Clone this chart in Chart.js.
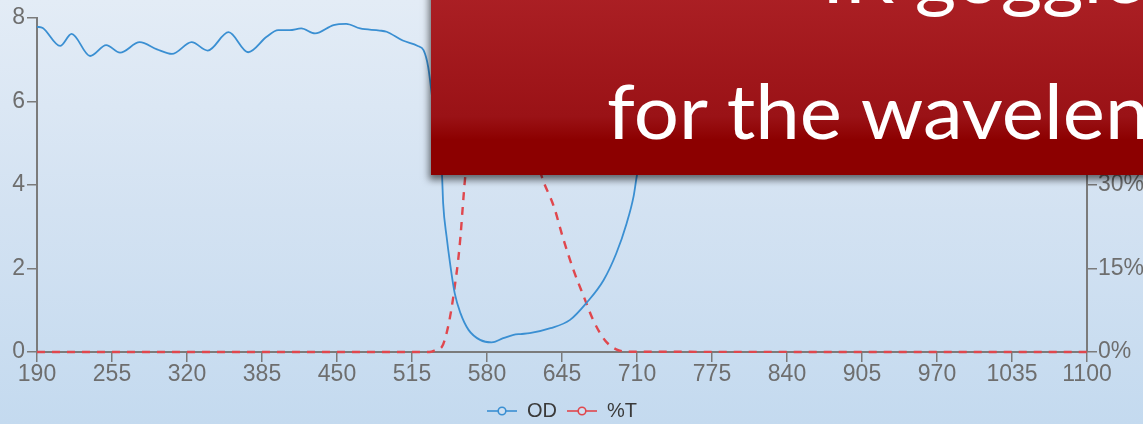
<!DOCTYPE html>
<html>
<head>
<meta charset="utf-8">
<title>OD / %T</title>
<script src="https://cdn.jsdelivr.net/npm/chart.js@4.4.1/dist/chart.umd.min.js"></script>
<style>
    html, body {
        margin: 0;
        padding: 0;
        width: 1143px;
        height: 424px;
        overflow: hidden;
    }
    body {
        position: relative;
        background: linear-gradient(to bottom, #e3ecf6 0%, #d3e2f2 50%, #c4daef 100%);
    }
    #wrap {
        position: absolute;
        left: 0;
        top: 0;
        width: 1143px;
        height: 424px;
    }
    /* banda roja del slide que tapa la parte superior derecha */
    #banner {
        position: absolute;
        left: 431px;
        top: -20px;
        width: 900px;
        height: 195px;
        background: linear-gradient(to bottom, #ad2126 0%, #9a1216 70%, #8c0000 82%, #8c0000 100%);
        box-shadow: -2px 5px 7px rgba(0, 0, 0, 0.55);
        overflow: hidden;
        font-family: Lato, sans-serif;
        color: #ffffff;
    }
    #banner span {
        position: absolute;
        white-space: nowrap;
        font-size: 76px;
        line-height: 76px;
        transform: scaleX(1.05);
        transform-origin: left center;
    }
</style>
</head>
<body>
<div id="wrap"><canvas id="odChart" width="1143" height="424"></canvas></div>
<div id="banner">
    <span style="left: 391px; top: -44px;">IR goggles</span>
    <span style="left: 176px; top: 92px;">for the wavelength</span>
</div>
<script>
// Curva de densidad óptica (eje izquierdo)
const odWavelength = [190, 195, 210, 220, 236, 250, 262, 279, 294, 307, 324, 338, 356, 373, 389, 399, 409, 419, 431, 447, 458, 470, 487, 493, 507, 520, 525, 529, 535, 541, 542, 545, 548, 552, 557, 564, 574, 584, 594, 603, 609, 617, 635, 652, 666, 681, 692, 701, 707, 710, 720, 735, 760, 800, 900, 1000, 1100];
const odValues = [7.79, 7.76, 7.33, 7.62, 7.09, 7.35, 7.17, 7.42, 7.25, 7.14, 7.42, 7.22, 7.66, 7.18, 7.55, 7.71, 7.71, 7.75, 7.63, 7.83, 7.86, 7.75, 7.70, 7.67, 7.46, 7.33, 7.23, 6.83, 5.5, 4.24, 3.56, 2.76, 2.12, 1.41, 0.93, 0.53, 0.29, 0.23, 0.33, 0.41, 0.43, 0.45, 0.57, 0.77, 1.17, 1.72, 2.36, 3.08, 3.72, 4.24, 5.3, 6.6, 7.4, 7.7, 7.8, 7.8, 7.8];

// Curva de transmitancia (eje derecho, %)
const tWavelength = [190, 530, 536, 541, 545, 549, 552, 555, 557, 559, 561, 570, 580, 590, 605, 617, 627, 638, 646, 655, 664, 672, 682, 692, 704, 1100];
const tValues = [0, 0, 0.4, 0.95, 3.4, 7.5, 11.7, 16.5, 20.7, 26.1, 31.2, 45, 54, 57, 50, 40, 31.8, 26.1, 20.4, 14.7, 9.9, 5.75, 2.16, 0.48, 0.05, 0];

// Ejes
const xMin = 190, xMax = 1100, xStep = 65;
const odTicks = [0, 2, 4, 6, 8];
const tTicks = [0, 15, 30, 45, 60];

document.addEventListener('DOMContentLoaded', function () {
    const axisColor = '#7b7b7b';
    const labelColor = '#6e6e6e';
    const odColor = '#3a8fd2';
    const tColor = '#e0474d';
    const tickFont = { family: "'Liberation Sans', Arial, sans-serif", size: 23 };

    // marcador de leyenda: línea con un círculo en medio
    function legendMarker(color) {
        const c = document.createElement('canvas');
        c.width = 30;
        c.height = 12;
        const ctx = c.getContext('2d');
        ctx.strokeStyle = color;
        ctx.lineWidth = 1.6;
        ctx.beginPath();
        ctx.moveTo(0, 6);
        ctx.lineTo(30, 6);
        ctx.stroke();
        ctx.fillStyle = '#cfe0f1';
        ctx.beginPath();
        ctx.arc(15, 6, 3.8, 0, Math.PI * 2);
        ctx.fill();
        ctx.stroke();
        return c;
    }
    const markers = [legendMarker(odColor), legendMarker(tColor)];

    // altura fija de la leyenda para que el área del gráfico quede donde toca
    const legendHeight = {
        id: 'legendHeight',
        afterInit: function (chart) {
            const legend = chart.legend;
            const fit = legend.fit;
            legend.fit = function () {
                fit.call(this);
                this.height = 33;
            };
        }
    };

    const odData = odWavelength.map((x, i) => ({ x: x, y: odValues[i] }));
    const tData = tWavelength.map((x, i) => ({ x: x, y: tValues[i] }));

    new Chart(document.getElementById('odChart'), {
        type: 'line',
        data: {
            datasets: [{
                label: 'OD',
                data: odData,
                yAxisID: 'y',
                borderColor: odColor,
                borderWidth: 1.8,
                pointRadius: 0,
                cubicInterpolationMode: 'monotone',
                fill: false
            }, {
                label: '%T',
                data: tData,
                yAxisID: 'y1',
                borderColor: tColor,
                borderWidth: 2.4,
                borderDash: [8, 7],
                pointRadius: 0,
                cubicInterpolationMode: 'monotone',
                clip: 6,
                fill: false
            }]
        },
        plugins: [legendHeight],
        options: {
            responsive: false,
            animation: false,
            events: [],
            layout: {
                padding: { top: 18, left: 0, right: 0, bottom: 0 }
            },
            plugins: {
                tooltip: { enabled: false },
                legend: {
                    position: 'bottom',
                    fullSize: false,
                    labels: {
                        color: '#3a3a3a',
                        font: { family: "'Liberation Sans', Arial, sans-serif", size: 20 },
                        usePointStyle: true,
                        pointStyleWidth: 30,
                        padding: 10,
                        generateLabels: function (chart) {
                            return chart.data.datasets.map((ds, i) => ({
                                text: ds.label,
                                pointStyle: markers[i],
                                fillStyle: 'transparent',
                                strokeStyle: ds.borderColor,
                                fontColor: '#3a3a3a',
                                lineWidth: 0,
                                hidden: false,
                                datasetIndex: i
                            }));
                        }
                    }
                }
            },
            scales: {
                x: {
                    type: 'linear',
                    min: xMin,
                    max: xMax,
                    afterFit: function (scale) { scale.height = 39; },
                    afterBuildTicks: function (scale) {
                        const t = [];
                        for (let v = xMin; v <= xMax; v += xStep) t.push({ value: v });
                        scale.ticks = t;
                    },
                    grid: {
                        drawOnChartArea: false,
                        drawTicks: true,
                        tickLength: 10,
                        color: axisColor,
                        lineWidth: 1.5
                    },
                    border: { color: axisColor, width: 2 },
                    ticks: {
                        color: labelColor,
                        padding: -1,
                        maxRotation: 0,
                        autoSkip: false,
                        font: tickFont,
                        callback: function (value) { return String(value); }
                    }
                },
                y: {
                    position: 'left',
                    min: 0,
                    max: 8,
                    afterFit: function (scale) { scale.width = 37; },
                    afterBuildTicks: function (scale) {
                        scale.ticks = odTicks.map(v => ({ value: v }));
                    },
                    grid: {
                        drawOnChartArea: false,
                        tickLength: 10,
                        color: axisColor,
                        lineWidth: 1.5
                    },
                    border: { color: axisColor, width: 2 },
                    ticks: {
                        color: labelColor,
                        padding: 2,
                        font: tickFont
                    }
                },
                y1: {
                    position: 'right',
                    min: 0,
                    max: 60,
                    afterFit: function (scale) { scale.width = 56; },
                    afterBuildTicks: function (scale) {
                        scale.ticks = tTicks.map(v => ({ value: v }));
                    },
                    grid: {
                        drawOnChartArea: false,
                        tickLength: 10,
                        color: axisColor,
                        lineWidth: 1.5
                    },
                    border: { color: axisColor, width: 2 },
                    ticks: {
                        color: labelColor,
                        padding: 1,
                        font: tickFont,
                        callback: function (value) { return value + '%'; }
                    }
                }
            }
        }
    });
});
</script>
</body>
</html>
